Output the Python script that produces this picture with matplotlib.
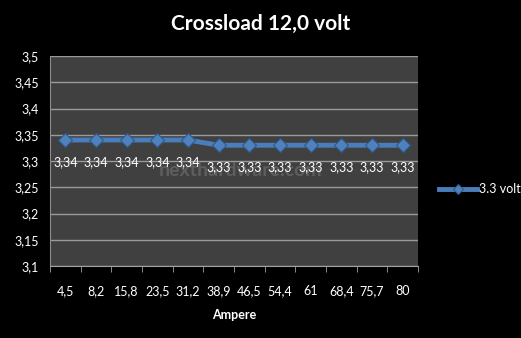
import matplotlib
matplotlib.use("Agg")
import matplotlib.pyplot as plt
import numpy as np

plt.rcParams["font.family"] = ["Lato", "DejaVu Sans"]

categories = ["4,5", "8,2", "15,8", "23,5", "31,2", "38,9", "46,5", "54,4", "61", "68,4", "75,7", "80"]
values = [3.34, 3.34, 3.34, 3.34, 3.34, 3.33, 3.33, 3.33, 3.33, 3.33, 3.33, 3.33]
yticks = [3.1, 3.15, 3.2, 3.25, 3.3, 3.35, 3.4, 3.45, 3.5]
series_name = "3.3 volt"

fig = plt.figure(figsize=(5.21, 3.38), dpi=100, facecolor="black")
ax = fig.add_axes([50/521, 1-266/338, 368/521, 210/338])
ax.set_facecolor("#404040")

x = np.arange(len(categories))
line_color = "#4A7EBB"
ax.plot(x, values, color=line_color, lw=3.5, marker="D", ms=7,
        markerfacecolor="#4F81BD", markeredgecolor="#2C5A8C", markeredgewidth=0.8,
        label=series_name, zorder=3)

for xi, v in zip(x, values):
    ax.annotate(f"{v:.2f}".replace(".", ","), (xi, v), xytext=(0, -16),
                textcoords="offset points", ha="center", va="center",
                color="white", fontsize=9, zorder=4)

ax.text(5.7, 3.281, "nexthardware.com", color="#5e5e5e", fontsize=14,
        fontweight="bold", ha="center", va="center", zorder=2)

ax.set_xlim(-0.5, len(categories) - 0.5)
ax.set_ylim(3.1, 3.5)
ax.set_yticks(yticks)
ax.set_yticklabels([f"{t:g}".replace(".", ",") for t in yticks], color="white", fontsize=9)
ax.yaxis.grid(True, color="#9a9a9a", lw=1)
ax.set_axisbelow(True)
ax.tick_params(axis="y", length=0, pad=8)

ax.set_xticks(x)
ax.set_xticklabels(categories, color="white", fontsize=9)
ax.tick_params(axis="x", length=0, pad=14)
ax.set_xticks(np.arange(-0.5, len(categories), 1), minor=True)
ax.tick_params(axis="x", which="minor", length=4, color="#a0a0a0", direction="out")

for s in ["top", "right"]:
    ax.spines[s].set_visible(False)
ax.spines["left"].set_color("#8c8c8c")
ax.spines["bottom"].set_color("#a0a0a0")

ax.set_xlabel("Ampere", color="white", fontsize=9, fontweight="bold", labelpad=8)

fig.text(0.5, 1-24/338, "Crossload 12,0 volt", color="white", fontsize=15,
         fontweight="bold", ha="center", va="center")

leg = fig.legend(loc="center left", bbox_to_anchor=(428/521, 1-189/338), frameon=False,
                 fontsize=9, labelcolor="white", handlelength=3, handletextpad=0.2,
                 markerscale=0.7)

fig.savefig("out.png", dpi=100, facecolor="black")
